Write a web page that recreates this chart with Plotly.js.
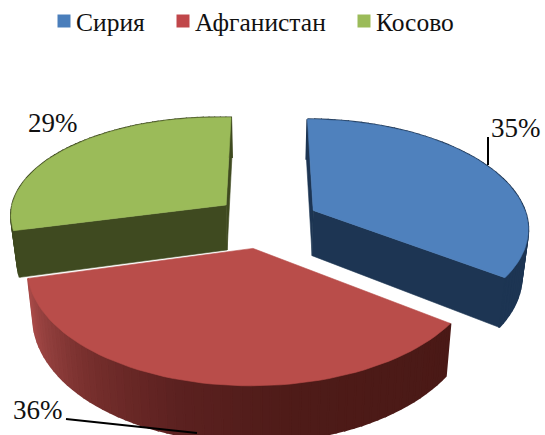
<!DOCTYPE html>
<html><head><meta charset="utf-8">
<script src="https://cdn.plot.ly/plotly-3.0.1.min.js"></script>
<style>html,body{margin:0;padding:0;background:#fff}</style></head>
<body><div id="chart" style="width:545px;height:435px"></div>
<script>
const categories = ["Сирия", "Афганистан", "Косово"];
const values = [35, 36, 29];
const topColors = ["#4f81bd", "#b94d4a", "#9bbb59"];
const cutColors = ["#1d3553", "#4e1b18", "#3f4a20"];
const legendColors = ["#4a7ebb", "#c0474a", "#9bbb59"];
const legendX = [64, 183, 364];
const labelPos = [[516,128],[38,410],[53,123]];
const nudgeX = [1, -4, -1];
const nudgeY = [0, 0, -1.5];
const bulge = [0, 0, 0.04];
const flatten = [1, 1, 0.965];
const drawCuts = [true, false, true];
const wallStops = [
  [[0,"#1d3553"],[1,"#1d3553"]],
  [[0,"#4a1916"],[0.35,"#4e1b18"],[0.55,"#5c2120"],[0.72,"#752e2c"],[0.88,"#93403e"],[1,"#a84a48"]],
  [[0,"#3f4a20"],[1,"#3f4a20"]]
];
const cx=267, cy=222, S=215, A=108, K=0.15, PULL=0.24, DEPTH=46, SHRINK=0.975;
const rad=d=>d*Math.PI/180;
function project(wx,wy,bottom,nx,ny){
  const w=1/(1-K*wy);
  let x=cx+S*wx*w, y=cy+A*wy*w;
  if(bottom){x=cx+(x-cx)*SHRINK; y+=DEPTH*w;}
  return [x+nx,y+ny];
}
function hex(c){return [1,3,5].map(i=>parseInt(c.substr(i,2),16));}
function grad(stops,t){
  for(let i=1;i<stops.length;i++){
    if(t<=stops[i][0]){
      const a=stops[i-1],b=stops[i],f=(t-a[0])/(b[0]-a[0]);
      const ca=hex(a[1]),cb=hex(b[1]);
      return "rgb("+ca.map((v,j)=>Math.round(v+(cb[j]-v)*f)).join(",")+")";
    }
  }
  return stops[stops.length-1][1];
}
function poly(pts,color,lw){
  const p=pts.concat([pts[0]]);
  return {type:"scatter",mode:"lines",x:p.map(q=>q[0]),y:p.map(q=>q[1]),fill:"toself",fillcolor:color,
    line:{color:color,width:lw},hoverinfo:"skip",showlegend:false};
}
const total=values.reduce((a,b)=>a+b,0);
const slices=[];let acc=0;
values.forEach((v,i)=>{const a0=acc/total*360;acc+=v;slices.push({i,a0,a1:acc/total*360});});
function sliceTraces(s){
  const mid=rad((s.a0+s.a1)/2);
  const px=PULL*Math.sin(mid), py=-PULL*Math.cos(mid);
  const nx=nudgeX[s.i], ny=nudgeY[s.i];
  const pt=(deg,bottom)=>{
    const t=(deg-s.a0)/(s.a1-s.a0), r=1+bulge[s.i]*Math.sin(Math.PI*t);
    return project(px+r*Math.sin(rad(deg)),py-r*flatten[s.i]*Math.cos(rad(deg)),bottom,nx,ny);
  };
  const apexT=project(px,py,false,nx,ny), apexB=project(px,py,true,nx,ny);
  const out=[];
  const n=60;
  for(let j=0;j<n;j++){
    const d0=s.a0+(s.a1-s.a0)*j/n, d1=s.a0+(s.a1-s.a0)*(j+1)/n;
    out.push(poly([pt(d0,false),pt(d1,false),pt(d1,true),pt(d0,true)],grad(wallStops[s.i],(j+.5)/n),2));
  }
  if(drawCuts[s.i]){
    out.push(poly([apexT,pt(s.a0,false),pt(s.a0,true),apexB],cutColors[s.i],0.6));
    out.push(poly([apexT,pt(s.a1,false),pt(s.a1,true),apexB],cutColors[s.i],0.6));
  }
  const top=[apexT];
  for(let j=0;j<=n;j++) top.push(pt(s.a0+(s.a1-s.a0)*j/n,false));
  out.push(poly(top,topColors[s.i],0.6));
  return out;
}
let traces=[];
[1,2,0].forEach(i=>{traces=traces.concat(sliceTraces(slices[i]));});
categories.forEach((c,i)=>{
  traces.push({type:"scatter",mode:"markers",x:[legendX[i]],y:[21],
    marker:{symbol:"square",size:13,color:legendColors[i]},hoverinfo:"skip",showlegend:false,name:c});
});
const annotations=values.map((v,i)=>({xref:"x",yref:"y",x:labelPos[i][0],y:labelPos[i][1],showarrow:false,
  text:Math.round(v/total*100)+"%",font:{family:"Liberation Serif",size:27,color:"#111"}}))
 .concat(categories.map((c,i)=>({xref:"x",yref:"y",x:legendX[i]+10,y:22,xanchor:"left",showarrow:false,
  text:c,font:{family:"Liberation Serif",size:25.5,color:"#111"}})));
const layout={width:545,height:435,margin:{l:0,r:0,t:0,b:0},paper_bgcolor:"#fff",plot_bgcolor:"#fff",showlegend:false,
  xaxis:{range:[0,545],visible:false,fixedrange:true},
  yaxis:{range:[435,0],visible:false,fixedrange:true},
  annotations,
  shapes:[
    {type:"line",xref:"x",yref:"y",x0:488,y0:137,x1:488,y1:165,line:{color:"#000",width:2}},
    {type:"line",xref:"x",yref:"y",x0:66,y0:419,x1:197,y1:433,line:{color:"#000",width:2}}
  ]};
Plotly.newPlot("chart",traces,layout,{displayModeBar:false,staticPlot:true});
</script></body></html>
